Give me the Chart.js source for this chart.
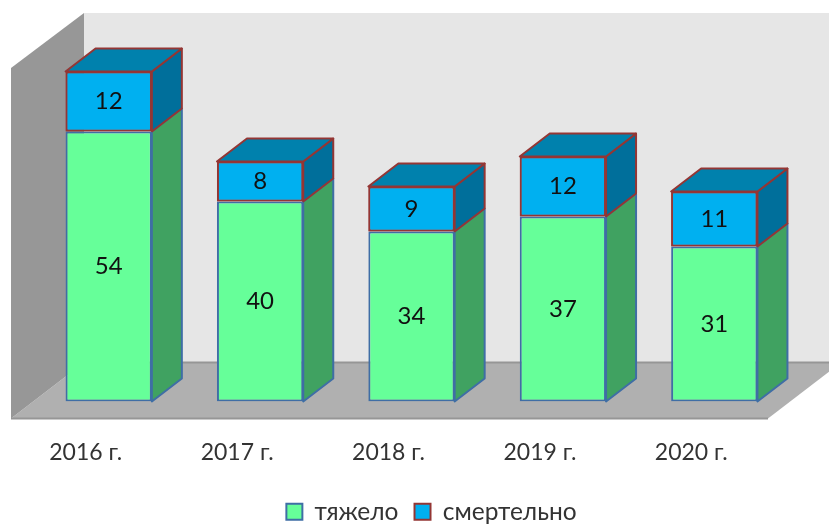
<!DOCTYPE html>
<html>
<head>
<meta charset="utf-8">
<title>chart</title>
<script src="https://cdn.jsdelivr.net/npm/chart.js@4"></script>
<style>
  html, body { margin: 0; padding: 0; background: #fff; }
  canvas { display: block; }
</style>
</head>
<body>
<canvas id="myChart" width="829" height="524"></canvas>
<script>
const years = ['2016 г.', '2017 г.', '2018 г.', '2019 г.', '2020 г.'];
const severe = [54, 40, 34, 37, 31];
const fatal = [12, 8, 9, 12, 11];

const fontName = 'Lato, "Open Sans", sans-serif';

// depth of the fake 3d look
const barDx = 30, barDy = 23;
const roomDx = 73, roomDy = 56;

function poly(ctx, pts, fill, stroke, lw) {
  ctx.beginPath();
  pts.forEach((p, i) => i ? ctx.lineTo(p[0], p[1]) : ctx.moveTo(p[0], p[1]));
  ctx.closePath();
  ctx.fillStyle = fill;
  ctx.fill();
  if (stroke) {
    ctx.strokeStyle = stroke;
    ctx.lineWidth = lw || 2;
    ctx.lineJoin = 'round';
    ctx.stroke();
  }
}

// back wall, side wall and floor, then the side and top of each bar
const room3d = {
  id: 'room3d',
  beforeDatasetsDraw(chart) {
    const ctx = chart.ctx;
    const base = chart.scales.y.getPixelForValue(0);
    const fl = base + 17;
    const left = chart.chartArea.left - 22;
    const right = chart.chartArea.right - 22;
    const backL = left + roomDx, backB = fl - roomDy;
    ctx.save();
    poly(ctx, [[backL, 13], [829, 13], [829, backB], [backL, backB]], '#e6e6e6');
    poly(ctx, [[left, fl], [right, fl], [right + roomDx, backB], [backL, backB]], '#b0b0b0');
    ctx.strokeStyle = '#969696';
    ctx.lineWidth = 2;
    ctx.beginPath(); ctx.moveTo(backL, backB); ctx.lineTo(829, backB); ctx.stroke();
    ctx.beginPath(); ctx.moveTo(left, fl); ctx.lineTo(right, fl); ctx.stroke();
    poly(ctx, [[left, fl], [left, 68], [backL, 13], [backL, backB]], '#979797');

    const sideFill = ['#40a261', '#006f9b'];
    chart.data.datasets.forEach((ds, n) => {
      chart.getDatasetMeta(n).data.forEach(bar => {
        const r = bar.x + bar.width / 2, l = bar.x - bar.width / 2;
        poly(ctx, [[r, bar.base], [r, bar.y], [r + barDx, bar.y - barDy], [r + barDx, bar.base - barDy]], sideFill[n], ds.borderColor, 2);
        if (n === 1) {
          poly(ctx, [[l, bar.y], [r, bar.y], [r + barDx, bar.y - barDy], [l + barDx, bar.y - barDy]], '#0081ad', ds.borderColor, 2);
        }
      });
    });
    ctx.restore();
  },
  afterDatasetsDraw(chart) {
    // top segment's outline goes over the lower one
    chart.getDatasetMeta(1).data.forEach(bar => bar.draw(chart.ctx));
  },
  afterLayout(chart) {
    // legend sits right of the page centre and low on the page
    chart.legend.left += 20;
    chart.legend.right += 20;
    chart.legend.top += 10;
    chart.legend.bottom += 10;
  },
  afterDraw(chart) {
    const ctx = chart.ctx;
    ctx.save();
    ctx.font = '24px ' + fontName;
    ctx.fillStyle = '#111';
    ctx.textAlign = 'center';
    ctx.textBaseline = 'middle';
    chart.data.datasets.forEach((ds, n) => {
      chart.getDatasetMeta(n).data.forEach((bar, i) => {
        ctx.fillText(ds.data[i], bar.x, (bar.y + bar.base) / 2);
      });
    });
    ctx.restore();
  }
};

new Chart(document.getElementById('myChart'), {
  type: 'bar',
  data: {
    labels: years,
    datasets: [
      { label: 'тяжело', data: severe, backgroundColor: '#66ff99', borderColor: '#3f6ea5', borderWidth: 2, borderSkipped: false },
      { label: 'смертельно', data: fatal, backgroundColor: '#00b0f0', borderColor: '#943634', borderWidth: 2, borderSkipped: false }
    ]
  },
  options: {
    responsive: false,
    animation: false,
    devicePixelRatio: 1,
    barPercentage: 0.57,
    categoryPercentage: 1,
    layout: { padding: { left: 33, right: 39, top: 26.5, bottom: 0 } },
    scales: {
      x: {
        stacked: true,
        grid: { display: false },
        border: { display: false },
        afterFit(scale) { scale.height = 72; },
        ticks: { color: '#333', font: { family: fontName, size: 23 }, padding: 29, labelOffset: -23, maxRotation: 0 }
      },
      y: {
        stacked: true,
        display: false,
        min: 0,
        max: 75
      }
    },
    plugins: {
      tooltip: { enabled: false },
      legend: {
        position: 'bottom',
        labels: {
          color: '#333',
          font: { family: fontName, size: 24.5 },
          boxWidth: 16,
          boxHeight: 16,
          padding: 16
        }
      }
    }
  },
  plugins: [room3d]
});
</script>
</body>
</html>
